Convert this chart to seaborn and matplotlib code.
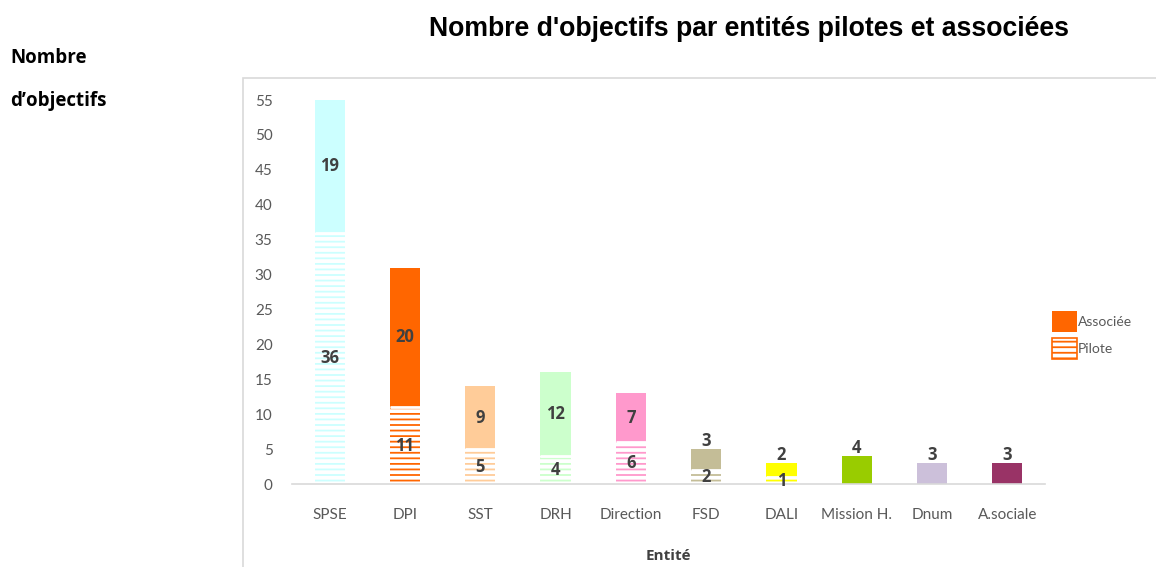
import matplotlib
matplotlib.use("Agg")
import matplotlib.pyplot as plt
from matplotlib.patches import Patch, Rectangle
import seaborn as sns
import pandas as pd

entites = ["SPSE", "DPI", "SST", "DRH", "Direction", "FSD", "DALI", "Mission H.", "Dnum", "A.sociale"]
pilote = [36, 11, 5, 4, 6, 2, 1, 0, 0, 0]
associee = [19, 20, 9, 12, 7, 3, 2, 4, 3, 3]
couleurs = ["#CCFFFF", "#FF6600", "#FFCC99", "#CCFFCC", "#FF99CC",
            "#C4BD97", "#FFFF00", "#99CC00", "#CCC0DA", "#993366"]
y_ticks = list(range(0, 60, 5))

df = pd.DataFrame({"Entité": entites, "Pilote": pilote, "Associée": associee})
df["Total"] = df["Pilote"] + df["Associée"]

sns.set_theme(style="white")
plt.rcParams["font.family"] = ["Lato", "DejaVu Sans"]
plt.rcParams["hatch.linewidth"] = 1.3

BOLD = ["Open Sans", "DejaVu Sans"]

W, H = 1156, 567
fig = plt.figure(figsize=(W / 100, H / 100), dpi=100)
ax = fig.add_axes([292 / W, 1 - 484 / H, (1045 - 292) / W, (484 - 100) / H])

pal = dict(zip(entites, couleurs))
sns.barplot(data=df, x="Entité", y="Total", hue="Entité", palette=pal, legend=False,
            width=0.4, saturation=1, edgecolor="none", linewidth=0, ax=ax)
sns.barplot(data=df, x="Entité", y="Pilote", hue="Entité", palette=pal, legend=False,
            width=0.4, saturation=1, ax=ax)

patches = ax.patches
n = len(entites)
for i, p in enumerate(patches[n:2 * n]):
    c = couleurs[i]
    p.set_facecolor("white")
    p.set_edgecolor(c)
    p.set_linewidth(0)
    p.set_hatch("---")

# white separation between pilote and associée
for i in range(n):
    if pilote[i] > 0:
        ax.hlines(pilote[i], i - 0.2, i + 0.2, colors="white", linewidth=2, zorder=5)

lab_kw = dict(fontsize=12, fontweight="bold", family=BOLD, color="#404040", ha="center", zorder=6)
for i in range(n):
    if pilote[i] > 0:
        ax.text(i, pilote[i] / 2, str(pilote[i]), va="center", **lab_kw)
    if associee[i] >= 5:
        ax.text(i, pilote[i] + associee[i] / 2, str(associee[i]), va="center", **lab_kw)
    else:
        ax.annotate(str(associee[i]), (i, pilote[i] + associee[i]), xytext=(0, -1),
                    textcoords="offset points", va="bottom", **lab_kw)

ax.set_xlim(-0.5, n - 0.5)
ax.set_ylim(0, 55)
ax.set_yticks(y_ticks)
ax.tick_params(axis="both", length=0, labelsize=11, labelcolor="#595959")
ax.tick_params(axis="y", pad=14)
ax.tick_params(axis="x", pad=17)
for s in ["top", "right", "left"]:
    ax.spines[s].set_visible(False)
ax.spines["bottom"].set_color("#D9D9D9")
ax.spines["bottom"].set_linewidth(1.2)
ax.set_ylabel("")
ax.set_xlabel("Entité", fontsize=11, fontweight="bold", family=BOLD, color="#404040", labelpad=20)

# plot area border
fig.add_artist(Rectangle((243 / W, -0.1), 1.0, 1 - 78 / H + 0.1, transform=fig.transFigure,
                         facecolor="none", edgecolor="#D9D9D9", linewidth=1.2))

fig.text(749 / W, 1 - 29 / H, "Nombre d'objectifs par entités pilotes et associées",
         fontsize=19.2, fontweight="bold", family=["Liberation Sans", "DejaVu Sans"],
         ha="center", va="center", color="black")
fig.text(10 / W, 1 - 58 / H, "Nombre", fontsize=13.5, fontweight="bold",
         family=BOLD, ha="left", va="center", color="black")
fig.text(10 / W, 1 - 101 / H, "d’objectifs", fontsize=13.5, fontweight="bold",
         family=BOLD, ha="left", va="center", color="black")

handles = [Patch(facecolor="#FF6600", edgecolor="#FF6600", linewidth=0),
           Patch(facecolor="white", edgecolor="#FF6600", hatch="---", linewidth=1.2)]
leg = fig.legend(handles, ["Associée", "Pilote"], loc="center left",
                 bbox_to_anchor=(1052 / W, 1 - 335 / H), frameon=False, fontsize=10,
                 handlelength=1.8, handleheight=1.9, handletextpad=0.05,
                 labelspacing=0.45, borderpad=0, borderaxespad=0)
for t in leg.get_texts():
    t.set_color("#595959")

fig.savefig("out.png", dpi=100)
